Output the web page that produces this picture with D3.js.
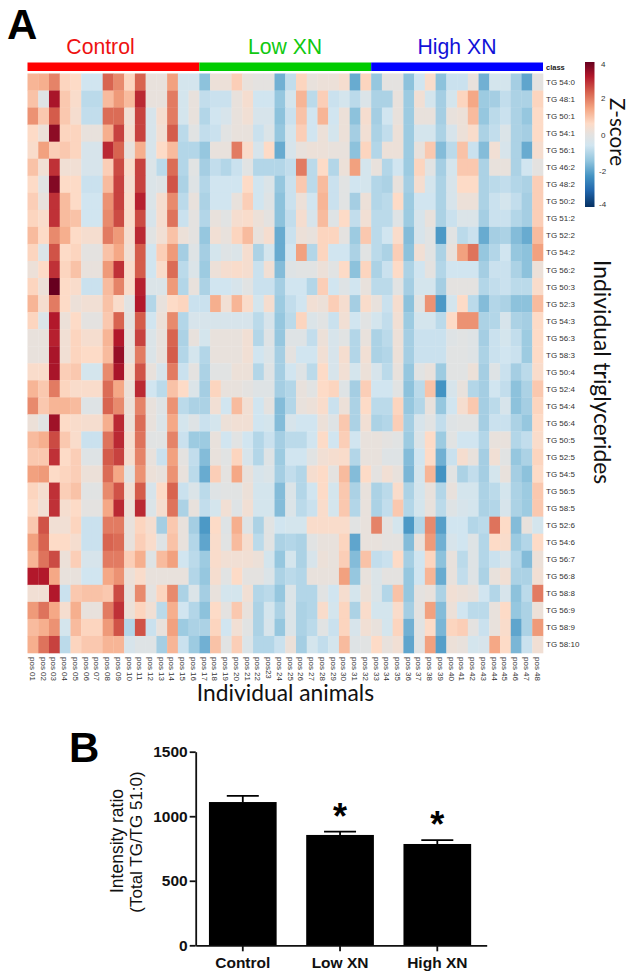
<!DOCTYPE html>
<html><head><meta charset="utf-8">
<script src="https://cdn.jsdelivr.net/npm/d3@7/dist/d3.min.js"></script>
<style>html,body{margin:0;padding:0;background:#fff}svg{display:block}</style>
</head><body><svg id="c" width="637" height="980" font-family='"Liberation Sans",Arial,sans-serif'></svg>
<script>
const triglycerides=["TG 54:0","TG 48:1","TG 50:1","TG 54:1","TG 56:1","TG 46:2","TG 48:2","TG 50:2","TG 51:2","TG 52:2","TG 54:2","TG 56:2","TG 50:3","TG 52:3","TG 54:3","TG 56:3","TG 58:3","TG 50:4","TG 52:4","TG 54:4","TG 56:4","TG 50:5","TG 52:5","TG 54:5","TG 56:5","TG 58:5","TG 52:6","TG 54:6","TG 56:7","TG 56:8","TG 58:8","TG 56:9","TG 58:9","TG 58:10"];
const animals=["pos 01","pos 02","pos 03","pos 04","pos 05","pos 06","pos 07","pos 08","pos 09","pos 10","pos 11","pos 12","pos 13","pos 14","pos 15","pos 16","pos 17","pos 18","pos 19","pos 20","pos 21","pos 22","pos23","pos 24","pos 25","pos 26","pos 27","pos 28","pos 29","pos 30","pos 31","pos 32","pos 33","pos 34","pos 35","pos 36","pos 37","pos 38","pos 39","pos 40","pos 41","pos 42","pos 43","pos 44","pos 45","pos 46","pos 47","pos 48"];
const groups=["Control","Low XN","High XN"];
const controlZ=[
[1.2,1.3,1.9,.7,.6,-.6,-.6,2.3,1.8,.7,2.3,.1,.1,1.5,-.5,-.5],
[1,-.2,3.3,.9,.5,-.9,-.9,1.1,1.6,1.1,3,.1,.1,2,-.5,.1],
[1.7,.9,2.4,.9,.4,-.8,-.8,2.2,2.2,.3,2.7,-.4,.4,2,-.5,.1],
[.6,.2,3.6,.7,.7,.1,.1,1.3,2.7,.4,2.7,-.4,.3,2.4,-.9,-.1],
[.5,1.5,.8,.9,.7,-.4,-.4,3,2.3,.1,1.3,-.4,.6,1.1,-1,-1],
[1,.3,2.9,.3,.3,-.4,-.4,.8,2.6,.5,2.7,-.3,-.9,2.2,-1,-.1],
[.6,-.1,3.7,.6,.6,-.7,-.7,1.1,2.7,.4,2.7,-.3,-.2,2.5,-1.1,-.2],
[.8,.1,2.9,1.1,.6,-.6,-.6,1.7,2.7,.5,3.1,-.3,.4,1.8,-.9,.1],
[.7,.5,2.9,1.1,1,-.6,-.6,1.8,2.6,.5,2.6,-.4,.4,2.1,-.7,0],
[1.1,.6,1.8,1.3,.6,.4,.4,2,1.6,.4,3,-.1,.3,1,.2,0],
[.7,-.3,2.5,.6,.7,0,0,1,1.4,.3,2.4,-.6,.8,1.6,-1.2,-.2],
[.2,.6,2.9,.7,1,.1,.1,1.6,2.9,.5,2.4,-.6,.5,2.2,-.9,-.3],
[.7,.2,4,.6,.5,-.7,-.7,1.1,1.9,.5,3.1,-.3,-.3,1.6,-1,.1],
[1.2,.4,2,.6,.2,.3,.3,1,.5,-.1,3.2,-1,.1,.6,.7,-.7],
[.7,-.3,3.2,.2,.6,0,0,.9,2.3,0,2.4,-.6,.2,1.8,-1,-.4],
[.1,.1,3.1,.3,.7,.4,.4,1.2,3.2,.1,2.7,-.3,.1,2.3,-1.1,.1],
[.1,.1,3.3,.3,.7,.6,.6,1.1,3.5,.1,2,-.3,.1,2.4,-1,-.5],
[.5,.5,3.3,.8,.9,-.5,-.5,1.8,3.3,.4,2.5,.1,-.4,2,-.7,0],
[1.2,.9,2,.7,.5,.5,.5,2.2,1.4,.2,3,-.6,-.9,1,.6,-.3],
[1.8,.9,1.2,1.2,1.1,-.2,-.2,2.3,1.8,.2,1.9,.1,-.2,1.7,-.9,-1.1],
[.2,-.1,3.4,.6,.5,.4,.4,1.3,3,.2,2.2,.1,-.3,1.4,-.5,-.2],
[1.1,1.3,2.6,.9,.5,-.7,-.7,2.1,3,.4,2.1,-.1,-.1,1.9,-.7,-1.3],
[.9,.9,2.9,.6,.8,-.2,-.2,2.4,2.7,.4,1.9,.1,-.7,1.5,0,-.8],
[1.5,1.6,.6,.7,.8,.2,.2,2.2,1.4,-.1,1.7,.2,.1,1.7,.1,-.9],
[.7,.4,2.9,.8,1,-.1,-.1,1.8,2.5,.3,2.4,-.4,.6,2.3,-.7,-.3],
[.6,.3,2.9,.4,.6,0,0,1.4,3,.2,3,-.3,.4,2.1,-1.1,.1],
[.9,2.5,.3,.3,.7,-.7,-.7,2,2,.1,.7,.4,-1.2,.9,.1,-1.2],
[1.5,2.3,.6,.6,.4,-.7,-.7,2.3,2.2,.1,.8,.5,-.2,1,.1,-1],
[1.2,2.1,2.6,.2,.8,-.4,-.4,2,2,.8,1.3,-.2,1.1,1.5,-.6,-.9],
[3.2,3.2,1.4,.1,.1,-.6,-.6,1.4,1.7,.2,.5,.1,.1,.1,.1,-1],
[.3,.3,3.2,-.7,.9,1,1,.9,2.6,.1,1.8,0,.7,1.8,-1.1,-.3],
[1.6,2.1,1.4,.4,1.3,.1,.1,2,2.9,.2,.7,.3,-.9,1.3,-.6,-1],
[1.1,1.3,1.7,-.5,1.1,.7,.7,1.6,2.5,-1,2.5,-.7,.1,1.5,-1.3,-1.1],
[1.3,2.1,2.7,-.9,.7,.9,.9,1.2,1.2,-.4,-.2,-.2,-1.2,1.2,-.7,-1.3]];
const lowZ=[
[-1.5,.2,.2,.8,.1,0,0,-1.8,-.8,.7,.1,.2,.2,.4,-1.9,.7],
[-.8,-.7,-.7,.1,.4,-.6,-.6,-1.4,-.5,1.2,-.9,.8,-.7,-.5,-.9,-.3],
[-1,-.6,-.4,.1,.3,-.4,-.4,-1.5,-.7,1,-.6,1.2,-.6,.2,-1.5,.4],
[-.8,-.7,-.1,.1,.1,-.7,-.3,-1.4,-.5,.8,-.6,.2,-.5,.2,-1.2,.3],
[-1.4,.1,.1,2,.5,-.4,.6,-1.9,-.4,.1,.2,.2,.1,.1,-1.5,.7],
[-1.2,-.8,-1,-.7,-.1,-1,-1,-1,-.8,2,-.9,.6,-1,.2,1.5,-.5],
[-1,-.6,-.6,-.6,.6,-.6,-.3,-1.4,-.7,.9,-.9,1.1,-.7,-.1,-.6,-.5],
[-1.1,-.6,-.6,.1,.8,-.6,-.2,-1.5,-.7,.2,-.6,1.2,-.7,-.1,-1.2,.2],
[-1,.1,-.1,.4,.5,.2,0,-1.5,-.8,.4,-.4,1.1,-.2,.6,-.8,.3],
[-1.4,.3,.1,.7,1.1,.1,.4,-1.9,-.7,.2,.1,.7,.7,0,-1.3,.9],
[-1.2,-.5,-.2,-.3,.4,-1.1,-.5,-1.9,-.6,1.5,-1,.7,-.6,-.6,-1.1,-.1],
[-1.3,.2,.4,.5,.4,-.7,.3,-1.6,-.2,-.1,-.1,.2,-.1,.6,-1.5,.7],
[-1.1,-.6,-.6,-.4,-.1,-.7,-.7,-1.2,-.6,-.6,-1,.8,-.6,-.2,-.6,.1],
[-.7,1.3,.3,1.2,.5,-.5,.4,-1.3,-.8,-.6,.3,.2,.8,.4,-1.2,.5],
[-.4,-.4,-.4,-.4,-.4,-.9,-.4,-1.4,-.9,.7,-.3,-.1,-.7,.3,-.6,-.1],
[-.5,.1,.1,.1,.3,-1,-.2,-1.4,-.2,-.2,-.8,.2,-.4,-.1,-1,.1],
[-1,.1,.1,.1,.3,-.6,-.3,-1.2,0,-.6,-.6,.3,-.4,.4,-1,.3],
[-1.1,-.1,-.1,.2,.2,-1,-.2,-1.2,-.6,-.2,-.9,.6,-.4,.3,-.5,.2],
[-1.2,.7,.1,.1,0,-.2,-.2,-1.2,-1,.1,-.1,.6,.7,-.2,-1.2,.8],
[-1.1,.3,-.6,1.1,.3,-.6,0,-1.6,-1,.1,.2,.5,-.7,.2,-1.1,.6],
[-.7,-.5,.2,.3,.3,-.6,-.5,-1.6,-.4,-.6,-.6,.2,-.2,.9,-1.1,.3],
[-1.3,.1,-.6,-.1,-.6,-1,-.7,-1.2,-.9,-.9,-.6,.6,-.6,.8,-.6,.1],
[-1.6,.1,-.1,.7,-.4,-1,-.2,-1.3,-.6,-.6,-.1,.3,.4,.5,-1,.1],
[-1.9,.8,0,1.4,.1,-.4,-.3,-1.2,-.8,-1,.4,.6,0,1.1,-1.6,.6],
[-.9,-.2,-.1,-.1,.2,-.5,-.5,-1.6,-.3,-1,-.6,.6,-.5,.9,-1.1,.1],
[-.8,-.5,.3,-.2,.3,-.5,-.5,-1.6,-.3,-.9,-.7,.5,-.5,.9,-1,.1],
[-2.2,.6,-.2,1.3,-.2,-1.1,-.1,-.6,-.5,-.5,.5,.5,.5,.5,-.1,.1],
[-2,.5,-.1,1.1,.4,-.9,-.1,-1.1,-1,-1.1,-.1,.1,.1,.7,-2,.1],
[-1.3,.5,.3,.3,.3,.2,-.5,-1.4,-.5,-1.1,-.4,.2,.1,.8,-1.6,1],
[-1.4,.4,-.1,.6,0,0,-.3,-1.1,-.9,-1,.1,.1,.1,1.5,-1.4,.1],
[-1.2,.1,-.5,-.5,.3,-1,-.9,-1.4,-.3,-1,-1,-.1,-.6,.4,-.5,.2],
[-1.5,.6,0,.9,.1,-1.1,-.5,-1.1,-.3,-1.1,-1,.5,-.5,.7,-1.1,.5],
[-1.1,.7,-.6,.3,-.1,-1.1,-.4,-1.4,-.3,-1.1,-.9,-.1,-.7,.7,-.4,.3],
[-1.8,1,-.1,.8,-.3,-1,-1,-.7,.2,-1.2,-.5,-.8,-.5,1.1,-.2,-.1]];
const highZ=[
[-1.4,0,0,-1.5,-.6,.5,-1.5,-.7,-.7,.1,-1.8,-.5,-.5,-1.2,-2,0],
[-1.1,-1.1,.1,-1.3,.3,-.5,-1.2,-.5,.7,1.4,-1.3,-1.2,-.8,-1.1,-1.1,.7],
[-1.2,-.6,.1,-1.3,.1,.1,-1.2,.1,.2,1.1,-1.4,-.9,-.7,-1.1,-1.4,.6],
[-1.1,-.8,.2,-1.3,-.5,-.5,-1.1,-.4,.2,.5,-1.1,-.8,-.3,-1.1,-1.2,.6],
[-1,.2,.2,-1.3,.1,.9,-1.6,-.9,1,-.7,-1.6,.3,-.4,-1.1,-1.9,.4],
[.1,-1,-.6,-1.3,.7,-.1,-1.2,-.5,.9,.9,-1.1,.1,.1,-1.1,-.6,0],
[-1,-1.1,.1,-1.2,.4,-.5,-1.1,-.4,.6,.6,-1.1,-.9,-.8,-1,-1.1,.8],
[-1,-.9,.6,-1.3,-.6,-.6,-1.1,-.4,.2,.2,-1.1,-.7,-.5,-.8,-1.2,.8],
[-.9,-.9,-.2,-1.3,-.4,.1,-1.1,-.7,-.3,-.3,-1.2,-.7,-.7,-1,-1.2,.8],
[-.9,-.6,.5,-1.6,-.4,-.1,-2.2,-.1,-.9,-.7,-1.9,-1.2,-1.1,-1.6,-1.9,1.1],
[-.9,-1.1,.8,-1.5,.3,-.1,-1.1,.1,1.5,2.1,-1.4,-1,-.6,-1.4,-1.5,1.5],
[-1.1,-.7,.6,-1.1,-.6,0,-1,-.6,-.6,-.6,-1.2,-.7,-.7,-1.1,-1.5,.2],
[-.9,-.9,-.1,-1.2,-.5,-.5,-1.2,0,0,0,-1,-.8,-.7,-.9,-.9,.5],
[.1,-.7,.4,-1.5,-.1,1.7,-2.2,-.5,.6,-.9,-1.6,-1,-1.1,-1.5,-1.5,1.1],
[-.5,-.8,.3,-1.3,-.5,-.5,-.9,.6,1.7,1.7,-1.1,-1,-.4,-1.1,-1.2,.6],
[-1.1,-.9,.2,-1.2,-.7,-.7,-.7,-.2,-.1,-.2,-1.2,-.7,-.5,-.8,-1.3,.6],
[-1.1,-1,.2,-1.2,-.7,-.7,-.7,-.1,-.1,-.2,-1.1,-.7,-.6,-.7,-1.3,.6],
[-.4,-.9,.1,-1.4,-.1,.1,-1.3,-.1,-.1,.2,-1.2,-.2,-.7,-1.2,-.9,.5],
[-.6,-.6,-.1,-1.5,-.9,1,-2.3,-.4,.1,-1,-1.2,-.6,-.8,-1.5,-1.1,.9],
[-.9,-.9,.7,-1.4,-1,.1,-1.4,-.6,.4,.9,-1.2,-.9,-.4,-1.5,-1.2,.7],
[-1.1,-1,.8,-1.2,-.4,-.1,-.8,-.2,-.1,-.1,-1.2,-.7,-.7,-1.1,-1.4,.6],
[.1,0,-.1,-1.3,-.3,.6,-1.3,-.1,-.6,-.6,-1,.1,.1,-1,-.8,.5],
[.1,-.2,-.2,-1.6,-.6,.6,-1.8,-.7,.4,.1,-1.2,.3,-.1,-1.4,-1.1,.7],
[0,.3,.1,-1.7,-.5,1.2,-2.3,-.1,-1.1,-.8,-1.2,-.5,.1,-1.2,-1.5,.6],
[-1.1,-.9,.5,-1.1,-.5,.1,-1,.1,-.5,-.5,-1.1,-.9,-.5,-1.1,-1.3,.9],
[-1.1,-.8,.9,-1,-.5,.1,-.9,-.2,-.4,-.5,-1.1,-1,-.4,-1.1,-1.3,.9],
[1.9,0,-.5,-2.2,-1,1.8,-2.1,-.6,-.6,-1,-.9,2.1,.6,-1.6,.1,-.5],
[.1,0,0,-1.6,.1,1.6,-1.8,-.4,-.6,-.2,-1,.6,.5,-1.3,-1,.6],
[-.8,-.7,.6,-1.2,-.6,.7,-1.5,.1,-.9,-.2,-1,-.7,-.4,-1,-1.6,.2],
[-.3,0,0,-1.4,-.6,1.2,-1.9,.1,-.8,-.2,-1.1,.1,.3,-1.1,-1.1,.3],
[-.3,-1,1,-1.4,0,.1,-1.1,.3,.2,.1,-.6,-1,-.4,-1.5,-.9,2],
[-.5,-.5,.5,-1.2,0,1.5,-1.6,.2,-.6,-.9,-.9,.1,.6,-1.4,-1.1,.2],
[.1,-.5,.7,-1.8,-.1,.6,-1.7,.7,.8,0,-.7,.1,.5,-2,-1.1,1.6],
[.6,.1,.3,-2,-.1,1.5,-2.1,.2,.1,-.5,-.4,1.4,.6,-1.7,-.7,.3]];
const colorStops=[-4,-3.1,-2.3,-1.45,-.6,0,.6,1.45,2.35,3.2,4];
const colorValues=["#053061","#2166ac","#4393c3","#92c5de","#d1e5f0","#e4e2e0","#fddbc7","#f4a582","#d6604d","#b2182b","#67001f"];
const colorTicks=[4,2,0,-2,-4];
const barMeans=[1110,855,785];
const barErrors=[47,25,30];
const barTicks=[0,500,1000,1500];
const starred=[false,true,true];

const svg=d3.select("#c");
const humanist='Lato,"Open Sans",sans-serif';
const color=d3.scaleLinear().domain(colorStops).range(colorValues).clamp(true);
const x=d3.scaleBand().domain(animals).range([27.5,543]);
const y=d3.scaleBand().domain(triglycerides).range([73.5,653]);
const groupColors=["#ff0000","#00cc00","#0000ff"];
const matrix=triglycerides.map((t,i)=>controlZ[i].concat(lowZ[i],highZ[i]));

svg.append("text").text("A").attr("x",7).attr("y",38.5).attr("font-size",42).attr("font-weight",700);
svg.append("text").text("B").attr("x",69).attr("y",762).attr("font-size",42).attr("font-weight",700);

// class bar
groups.forEach((g,k)=>{
  const x0=x(animals[k*16]),x1=x(animals[k*16+15])+x.bandwidth();
  svg.append("rect").attr("x",x0).attr("y",62.5).attr("width",x1-x0).attr("height",8.5).attr("fill",groupColors[k]);
  svg.append("text").text(g).attr("x",[100.5,285,457][k]).attr("y",53.5).attr("text-anchor","middle")
    .attr("font-size",21.2).attr("fill",["#ee1111","#11c911","#1212d8"][k]);
});
svg.append("text").text("class").attr("x",546).attr("y",70).attr("font-size",7.5).attr("font-weight",700).attr("fill","#222");

// cells
svg.append("g").selectAll("g").data(matrix).join("g").attr("transform",(d,i)=>`translate(0,${y(triglycerides[i])})`)
  .selectAll("rect").data(d=>d).join("rect")
  .attr("x",(d,j)=>x(animals[j])).attr("width",x.bandwidth()+.3).attr("height",y.bandwidth()+.3)
  .attr("fill",d=>color(d));

// row labels
svg.append("g").selectAll("text").data(triglycerides).join("text").text(d=>d)
  .attr("x",546).attr("y",d=>y(d)+y.bandwidth()/2+3).attr("font-size",8).attr("fill","#333");
// column labels
svg.append("g").selectAll("text").data(animals).join("text").text(d=>d)
  .attr("transform",d=>`translate(${x(d)+x.bandwidth()/2-3},657) rotate(90)`)
  .attr("font-size",8).attr("fill","#333");

// colour key
const defs=svg.append("defs");
const grad=defs.append("linearGradient").attr("id","key").attr("x1",0).attr("x2",0).attr("y1",1).attr("y2",0);
colorStops.forEach(s=>grad.append("stop").attr("offset",(s+4)/8).attr("stop-color",color(s)));
const keyY=d3.scaleLinear().domain([-4,4]).range([207,62]);
svg.append("rect").attr("x",585).attr("y",keyY(4)).attr("width",9.5).attr("height",keyY(-4)-keyY(4)).attr("fill","url(#key)");
svg.append("g").selectAll("text").data(colorTicks).join("text").text(d=>d===0?"0":(d<0?"-"+(-d):d))
  .attr("x",d=>d<0?599:601).attr("y",d=>keyY(d)+(d===4?5:d===-4?0:3)).attr("font-size",8).attr("fill","#333");

svg.append("text").text("Z-score").attr("transform","translate(610,98) rotate(90)").attr("font-size",20.6).attr("font-family",humanist).attr("fill","#111");
svg.append("text").text("Individual triglycerides").attr("transform","translate(594,260) rotate(90)").attr("font-size",22.8).attr("font-family",humanist).attr("fill","#111");
svg.append("text").text("Individual animals").attr("x",285.5).attr("y",701).attr("text-anchor","middle").attr("font-size",22.8).attr("font-family",humanist).attr("fill","#111");

// bar panel
const bx=d3.scaleBand().domain(groups).range([195.7,486.7]).paddingInner(.304).paddingOuter(.148).align(.46);
const by=d3.scaleLinear().domain([0,1500]).range([945.3,751.7]);
const yAxis=d3.axisLeft(by).tickValues(barTicks).tickSize(6).tickSizeOuter(0).tickPadding(2).tickFormat(d3.format("d"));
const gy=svg.append("g").attr("transform","translate(195.7,0)").call(yAxis);
gy.selectAll("path,line").attr("stroke","#111").attr("stroke-width",1.8);
gy.selectAll("text").attr("font-size",15.5).attr("font-weight",700).attr("fill","#111").attr("font-family",'"Liberation Sans",Arial,sans-serif');
const xAxis=d3.axisBottom(bx).tickSize(6).tickSizeOuter(0).tickPadding(6);
const gx=svg.append("g").attr("transform","translate(0,945.3)").call(xAxis);
gx.selectAll("path,line").attr("stroke","#111").attr("stroke-width",1.8);
gx.selectAll("text").attr("font-size",15.5).attr("font-weight",700).attr("fill","#111").attr("font-family",'"Liberation Sans",Arial,sans-serif');
const bars=svg.append("g").selectAll("g").data(groups).join("g");
const mid=d=>bx(d)+bx.bandwidth()/2;
const errTop=d=>by(barMeans[groups.indexOf(d)]+barErrors[groups.indexOf(d)]);
bars.append("line").attr("x1",mid).attr("x2",mid)
  .attr("y1",d=>by(barMeans[groups.indexOf(d)])).attr("y2",errTop).attr("stroke","#000").attr("stroke-width",1.8);
bars.append("line").attr("x1",d=>mid(d)-16).attr("x2",d=>mid(d)+16)
  .attr("y1",errTop).attr("y2",errTop).attr("stroke","#000").attr("stroke-width",1.8);
bars.append("rect").attr("x",d=>bx(d)).attr("width",bx.bandwidth()).attr("y",d=>by(barMeans[groups.indexOf(d)])).attr("height",d=>by(0)-by(barMeans[groups.indexOf(d)])).attr("fill","#000");
bars.filter(d=>starred[groups.indexOf(d)]).append("text").text("*").attr("x",mid).attr("y",d=>errTop(d)-12)
  .attr("text-anchor","middle").attr("font-size",36).attr("font-weight",700).attr("dy","0.25em");
svg.append("text").text("Intensity ratio").attr("transform","translate(123,841) rotate(-90)").attr("text-anchor","middle").attr("font-size",17.5).attr("fill","#111");
svg.append("text").text("(Total TG/TG 51:0)").attr("transform","translate(142,842) rotate(-90)").attr("text-anchor","middle").attr("font-size",17).attr("fill","#111");
</script></body></html>
